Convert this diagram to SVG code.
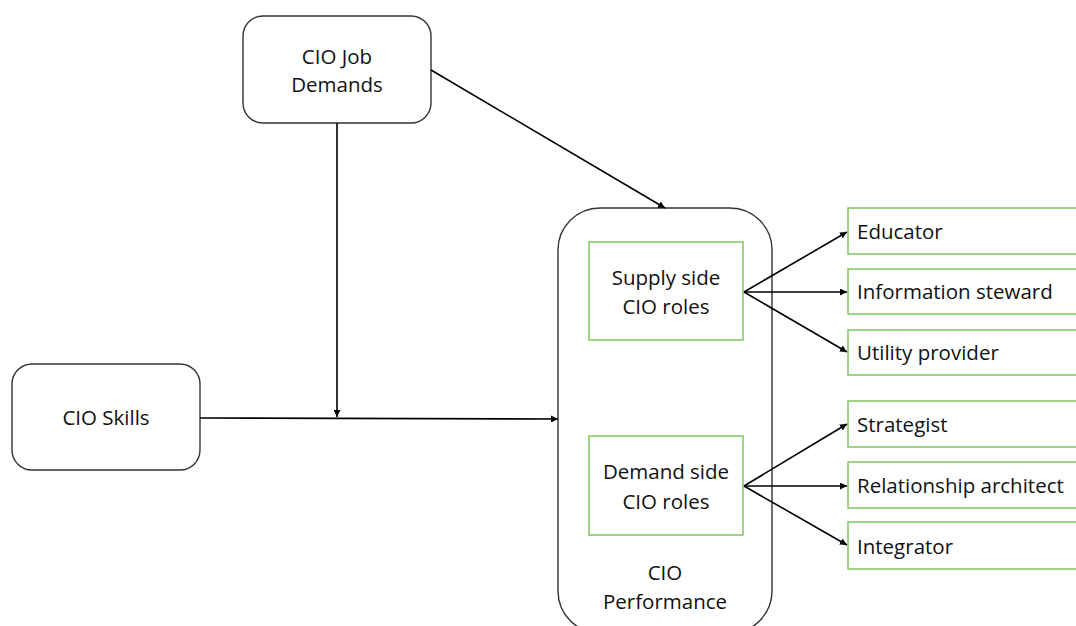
<svg xmlns="http://www.w3.org/2000/svg" width="1076" height="626" viewBox="0 0 1076 626">
<style>
.bx{fill:#fff;stroke:#333;stroke-width:1.4}
.gr{fill:#fff;stroke:#80c65f;stroke-width:1.5}
.t{font-family:"Open Sans","Liberation Sans",sans-serif;font-size:20.5px;fill:#111}
.m{text-anchor:middle}
.c{fill:none;stroke:#000;stroke-width:1.6}
</style>
<defs>
<marker id="ah" viewBox="0 0 10 10" refX="10" refY="5" markerWidth="7" markerHeight="7" markerUnits="userSpaceOnUse" orient="auto"><path d="M0,0 L10,5 L0,10 z" fill="#000"/></marker>
</defs>
<rect width="1076" height="626" fill="#fff"/>
<g id="perf"><rect class="bx" x="558" y="208" width="214" height="425" rx="42"/><text class="t m" x="665" y="580">CIO</text><text class="t m" x="665" y="609">Performance</text></g>
<g id="jobdemands"><rect class="bx" x="243" y="16" width="188" height="107" rx="20"/><text class="t m" x="337" y="64">CIO Job</text><text class="t m" x="337" y="92">Demands</text></g>
<g id="skills"><rect class="bx" x="12" y="364" width="188" height="106" rx="20"/><text class="t m" x="106" y="425">CIO Skills</text></g>
<g id="supply"><rect class="gr" x="589" y="242" width="154" height="98"/><text class="t m" x="666" y="285">Supply side</text><text class="t m" x="666" y="314">CIO roles</text></g>
<g id="demand"><rect class="gr" x="589" y="436" width="154" height="99"/><text class="t m" x="666" y="479">Demand side</text><text class="t m" x="666" y="509">CIO roles</text></g>
<g id="educator"><rect class="gr" x="848" y="208" width="240" height="46"/><text class="t" x="857" y="239">Educator</text></g>
<g id="infosteward"><rect class="gr" x="848" y="269" width="240" height="45"/><text class="t" x="857" y="299">Information steward</text></g>
<g id="utility"><rect class="gr" x="848" y="330" width="240" height="45"/><text class="t" x="857" y="360">Utility provider</text></g>
<g id="strategist"><rect class="gr" x="848" y="401" width="240" height="46"/><text class="t" x="857" y="432">Strategist</text></g>
<g id="relarch"><rect class="gr" x="848" y="462" width="240" height="46"/><text class="t" x="857" y="493">Relationship architect</text></g>
<g id="integrator"><rect class="gr" x="848" y="522" width="240" height="47"/><text class="t" x="857" y="554">Integrator</text></g>
<g id="connectors">
<line class="c" x1="431" y1="70" x2="665" y2="208" marker-end="url(#ah)"/>
<line class="c" x1="337" y1="123" x2="337" y2="417" marker-end="url(#ah)"/>
<line class="c" x1="200" y1="418" x2="558" y2="419" marker-end="url(#ah)"/>
<line class="c" x1="744" y1="292" x2="847" y2="232" marker-end="url(#ah)"/>
<line class="c" x1="744" y1="292" x2="847" y2="292" marker-end="url(#ah)"/>
<line class="c" x1="744" y1="292" x2="847" y2="352" marker-end="url(#ah)"/>
<line class="c" x1="744" y1="486" x2="847" y2="424" marker-end="url(#ah)"/>
<line class="c" x1="744" y1="486" x2="847" y2="486" marker-end="url(#ah)"/>
<line class="c" x1="744" y1="486" x2="847" y2="545" marker-end="url(#ah)"/>
</g>
</svg>
